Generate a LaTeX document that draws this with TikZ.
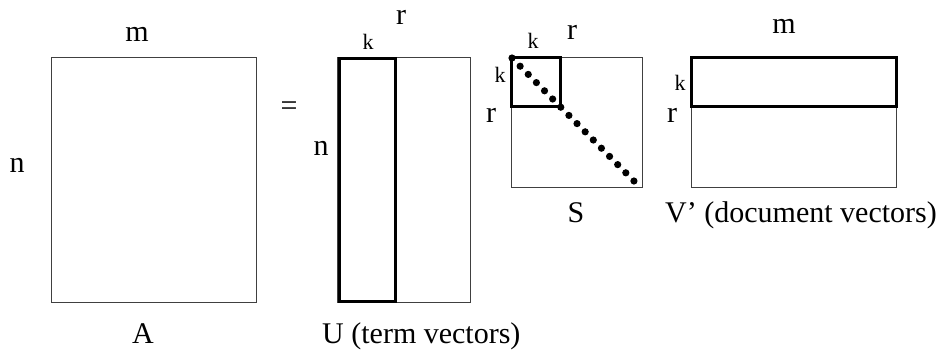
\documentclass[tikz,border=0pt]{standalone}
\usepackage{fontspec}
\setmainfont{Liberation Serif}
\usetikzlibrary{positioning}
\tikzset{
  thinbox/.style={draw=black!75, line width=1pt},
  thickbox/.style={draw=black, line width=3pt},
  biglabel/.style={font=\fontsize{30}{35}\selectfont, inner sep=0pt, anchor=base},
  smalllabel/.style={font=\fontsize{22}{26}\selectfont, inner sep=0pt, anchor=base}
}
\begin{document}
\begin{tikzpicture}[x=1pt, y=-1pt]
\useasboundingbox[fill=white] (0,0) rectangle (943,349);
% A
\draw[thinbox] (51,57) rectangle (256,302);
\node (mA) [biglabel] at (137,41) {m};
\node (nA) [biglabel] at (17,172) {n};
\node (labA) [biglabel] at (143,343) {A};
\node (eq) [biglabel] at (289,115) {=};
% U
\draw[thinbox] (337,57) rectangle (470,302);
\draw[thickbox] (339,58) rectangle (395,301);
\node (kU) [smalllabel] at (368,49) {k};
\node (rU) [biglabel] at (401,24) {r};
\node (nU) [biglabel] at (321,155) {n};
\node (labU) [biglabel, anchor=base west] at (322,343) {U (term vectors)};
% S
\draw[thinbox] (511,57) rectangle (642,187);
\draw[thickbox] (511.5,57.5) rectangle (560,106);
\foreach \i in {0,...,15}
  \fill (512+\i*8.13, 58+\i*8.2) circle (3.6pt);
\node (kSt) [smalllabel] at (533,48) {k};
\node (kSl) [smalllabel] at (500,82) {k};
\node (rSt) [biglabel] at (572,39) {r};
\node (rSl) [biglabel] at (491,122) {r};
\node (labS) [biglabel] at (576,222) {S};
% V'
\draw[thinbox] (691,57) rectangle (896,187);
\draw[thickbox] (691.5,57.5) rectangle (896,106.5);
\node (mV) [biglabel] at (784,33) {m};
\node (kV) [smalllabel] at (680,90) {k};
\node (rV) [biglabel] at (672,122) {r};
\node (labV) [biglabel] at (801,222) {V’ (document vectors)};
\end{tikzpicture}
\end{document}
